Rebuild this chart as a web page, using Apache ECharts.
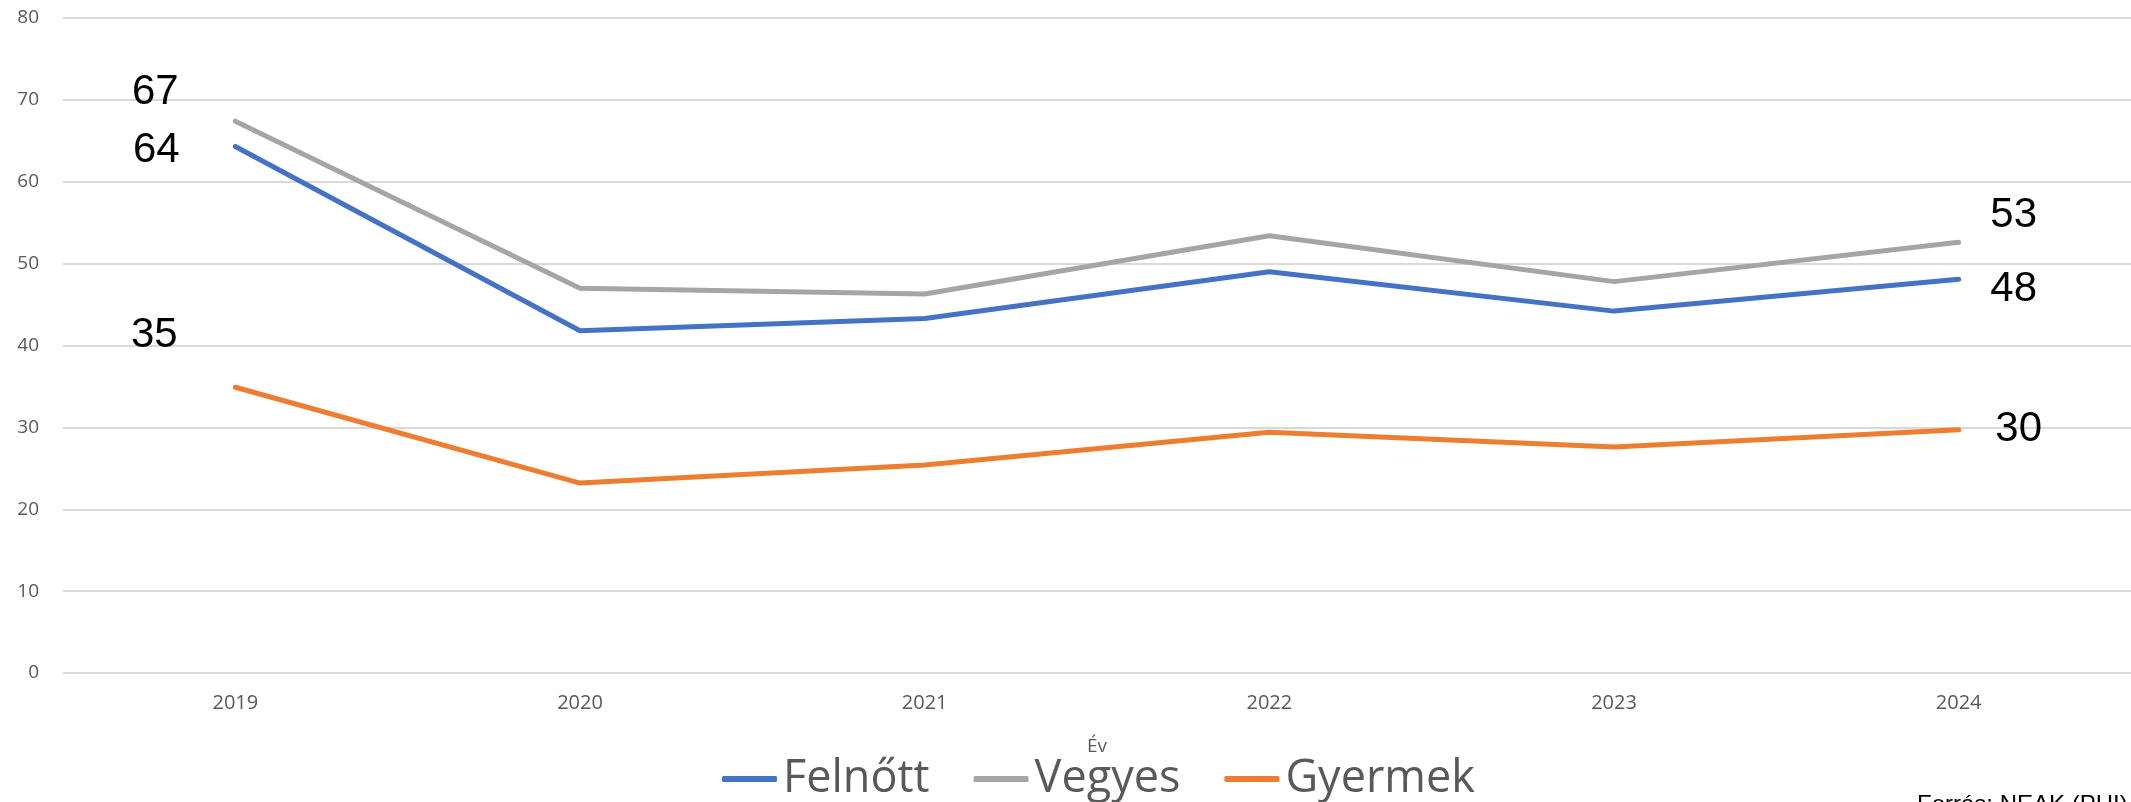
<!DOCTYPE html>
<html>
<head>
<meta charset="utf-8">
<script src="https://cdn.jsdelivr.net/npm/echarts@6/dist/echarts.min.js"></script>
<style>
html,body{margin:0;padding:0;background:#fff;}
#chart{width:2131px;height:802px;}
</style>
</head>
<body>
<div id="chart"></div>
<script>
const years = ['2019', '2020', '2021', '2022', '2023', '2024'];
const felnott = [64.3, 41.8, 43.3, 49.0, 44.2, 48.1];
const vegyes = [67.4, 47.0, 46.3, 53.4, 47.8, 52.6];
const gyermek = [34.9, 23.2, 25.4, 29.4, 27.6, 29.7];
const seriesNames = ['Felnőtt', 'Vegyes', 'Gyermek'];
const axisName = 'Év';
const sourceText = 'Forrás: NEAK (PHI)';

const colors = ['#4472C4', '#A5A5A5', '#ED7D31'];
// label offsets for first/last points (style only)
const labelOffsets = [
  {first: [-79, 4], last: [55, 10]},
  {first: [-80, -29], last: [55, -27]},
  {first: [-81, -52], last: [60, 0]}
];

function buildData(values, offs) {
  return values.map((v, i) => {
    const item = {value: v};
    if (i === 0 || i === values.length - 1) {
      item.label = {
        show: true,
        position: 'inside',
        align: 'center',
        verticalAlign: 'middle',
        offset: i === 0 ? offs.first : offs.last,
        formatter: p => Math.round(p.value),
        fontFamily: 'Liberation Sans',
        fontSize: 42,
        color: '#000'
      };
    }
    return item;
  });
}

const allValues = [felnott, vegyes, gyermek];
const chart = echarts.init(document.getElementById('chart'));
chart.setOption({
  animation: false,
  color: colors,
  grid: {left: 63, right: -2, top: 18, bottom: 129, containLabel: false},
  legend: {
    data: seriesNames,
    left: 722,
    top: 752,
    padding: 0,
    icon: 'roundRect',
    itemWidth: 55,
    itemHeight: 6,
    itemGap: 44,
    itemStyle: {opacity: 1},
    textStyle: {fontFamily: 'Open Sans', fontSize: 45, color: '#595959', lineHeight: 54, padding: [0, 0, 0, 1]}
  },
  xAxis: {
    type: 'category',
    data: years,
    boundaryGap: true,
    name: axisName,
    nameLocation: 'middle',
    nameGap: 64,
    nameTextStyle: {fontFamily: 'Open Sans', fontSize: 19, color: '#595959'},
    axisLine: {show: false},
    axisTick: {show: false},
    axisLabel: {fontFamily: 'Open Sans', fontSize: 20, color: '#595959', margin: 20}
  },
  yAxis: {
    type: 'value',
    min: 0, max: 80, interval: 10,
    axisLine: {show: false},
    axisTick: {show: false},
    axisLabel: {fontFamily: 'Open Sans', fontSize: 19, color: '#595959', margin: 24},
    splitLine: {lineStyle: {color: '#D9D9D9', width: 2}}
  },
  series: seriesNames.map((name, k) => ({
    name: name,
    type: 'line',
    data: buildData(allValues[k], labelOffsets[k]),
    showSymbol: true,
    symbol: 'circle',
    symbolSize: 1,
    itemStyle: {color: colors[k]},
    lineStyle: {width: 5, color: colors[k], cap: 'round', join: 'round'},
    label: {show: false},
    emphasis: {disabled: true},
    z: 3 - k
  })),
  graphic: [{
    type: 'text',
    left: 1917,
    top: 793,
    style: {text: sourceText, fontFamily: 'Liberation Sans', fontSize: 24, fill: '#000'}
  }]
});
</script>
</body>
</html>
